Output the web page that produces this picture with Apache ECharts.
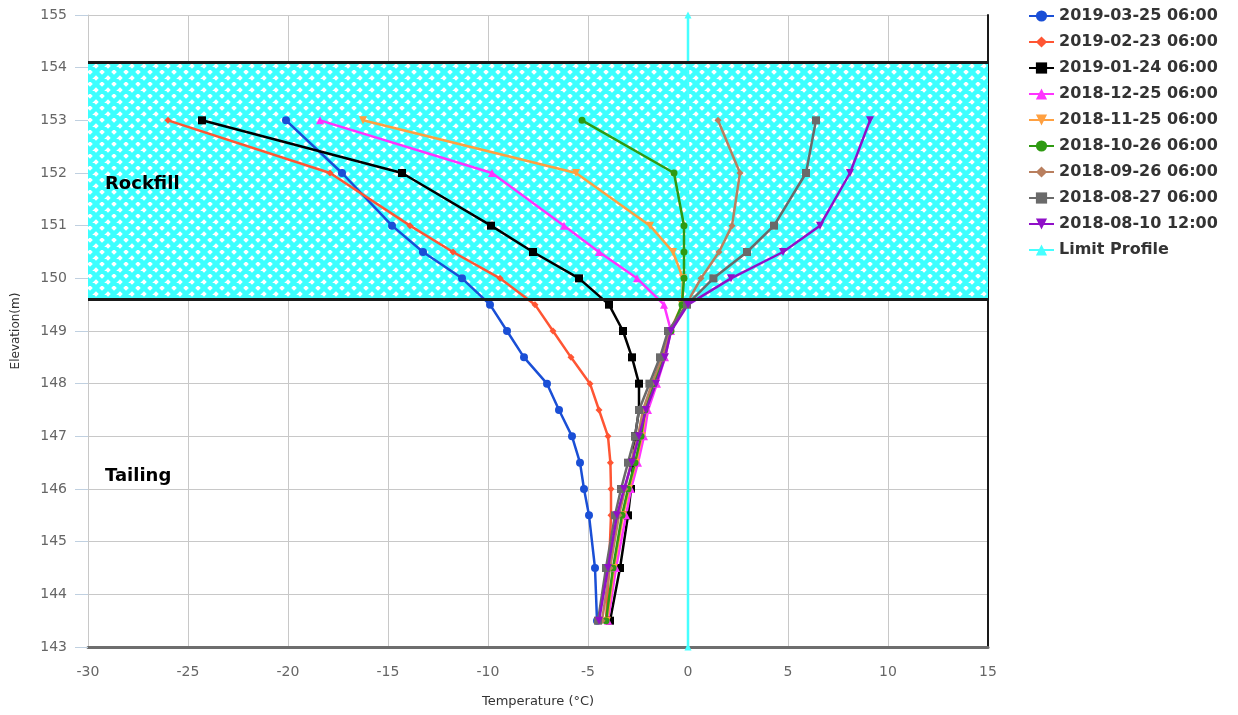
<!DOCTYPE html>
<html>
<head>
<meta charset="utf-8">
<script src="https://cdn.jsdelivr.net/npm/echarts@6/dist/echarts.min.js"></script>
<style>
html,body{margin:0;padding:0;background:#fff;}
#chart{width:1238px;height:715px;}
</style>
</head>
<body>
<div id="chart"></div>
<script>
// ---- data ----
const elevations = [153, 152, 151, 150.5, 150, 149.5, 149, 148.5, 148, 147.5, 147, 146.5, 146, 145.5, 144.5, 143.5];
const seriesNames = ['2019-03-25 06:00','2019-02-23 06:00','2019-01-24 06:00','2018-12-25 06:00','2018-11-25 06:00','2018-10-26 06:00','2018-09-26 06:00','2018-08-27 06:00','2018-08-10 12:00'];
const t20190325 = [-20.1, -17.3, -14.8, -13.25, -11.3, -9.9, -9.05, -8.2, -7.05, -6.45, -5.8, -5.4, -5.2, -4.95, -4.65, -4.55];
const t20190223 = [-26.0, -17.9, -13.9, -11.75, -9.4, -7.65, -6.75, -5.85, -4.9, -4.45, -4.0, -3.88, -3.85, -3.85, -3.95, -4.1];
const t20190124 = [-24.3, -14.3, -9.85, -7.75, -5.45, -3.95, -3.25, -2.8, -2.45, -2.45, -2.65, -2.75, -2.85, -3.0, -3.4, -3.9];
const t20181225 = [-18.4, -9.8, -6.2, -4.45, -2.55, -1.2, -0.85, -1.15, -1.55, -2.0, -2.2, -2.5, -2.85, -3.1, -3.6, -4.0];
const t20181125 = [-16.25, -5.6, -1.9, -0.75, -0.25, -0.3, -0.9, -1.2, -1.65, -2.1, -2.3, -2.6, -2.95, -3.25, -3.7, -4.05];
const t20181026 = [-5.3, -0.7, -0.2, -0.2, -0.2, -0.3, -0.85, -1.25, -1.7, -2.15, -2.35, -2.65, -3.0, -3.3, -3.75, -4.1];
const t20180926 = [1.5, 2.6, 2.2, 1.55, 0.65, -0.1, -0.9, -1.3, -1.8, -2.25, -2.5, -2.85, -3.15, -3.45, -3.9, -4.3];
const t20180827 = [6.4, 5.9, 4.3, 2.95, 1.27, -0.05, -1.0, -1.4, -1.93, -2.45, -2.65, -3.0, -3.35, -3.65, -4.1, -4.5];
const t20180810 = [9.1, 8.1, 6.6, 4.75, 2.15, 0.0, -0.85, -1.15, -1.6, -2.1, -2.45, -2.8, -3.2, -3.55, -4.0, -4.45];
const limitName = 'Limit Profile';
const limitX = [0, 0];
const limitY = [143, 155];
const rockfillTop = 154.1;
const rockfillBottom = 149.6;
const xMin = -30, xMax = 15, xStep = 5;
const yMin = 143, yMax = 155, yStep = 1;

// ---- styles ----
const colors = ['#1a4fd6','#ff5533','#000000','#ff33ff','#ffa040','#2f9a12','#b97f5e','#6a6a6a','#9010c8'];
const symbols = ['circle','diamond','rect','triangle','path://M0,0 L10,0 L5,9 Z','circle','diamond','rect','path://M0,0 L10,0 L5,9 Z'];
const symbolSizes = [8, 7, 8, 8, 8, 7, 7, 8, 8];
const tempSets = [t20190325, t20190223, t20190124, t20181225, t20181125, t20181026, t20180926, t20180827, t20180810];

function hatch() {
  const P = 12;
  const c = document.createElement('canvas');
  c.width = P; c.height = P;
  const g = c.getContext('2d');
  g.fillStyle = '#ffffff';
  g.fillRect(0, 0, P, P);
  g.strokeStyle = '#3dffff';
  g.lineWidth = 4.5;
  g.beginPath();
  for (let k = -1; k <= 1; k++) {
    g.moveTo(k * P, 0); g.lineTo(k * P + P, P);
    g.moveTo(k * P + P, 0); g.lineTo(k * P, P);
  }
  g.stroke();
  return c;
}

const chart = echarts.init(document.getElementById('chart'), null, {renderer: 'canvas'});

const series = [];
series.push({
  name: 'zone', type: 'line', data: [], z: -1, silent: true,
  markArea: {
    silent: true,
    itemStyle: {color: {image: hatch(), repeat: 'repeat'}},
    data: [[{xAxis: xMin, yAxis: rockfillBottom}, {xAxis: xMax, yAxis: rockfillTop}]]
  }
});
series.push({
  name: 'zoneEdge', type: 'line', data: [], z: 1, silent: true,
  markLine: {
    silent: true, symbol: ['none','none'], label: {show: false},
    lineStyle: {color: '#1a1a1a', width: 3, type: 'solid'},
    data: [{yAxis: rockfillTop}, {yAxis: rockfillBottom}]
  }
});
tempSets.forEach((arr, i) => {
  series.push({
    name: seriesNames[i], type: 'line',
    data: arr.map((t, j) => [t, elevations[j]]),
    color: colors[i],
    symbol: symbols[i], symbolSize: symbolSizes[i], showSymbol: true,
    lineStyle: {width: 2.5},
    itemStyle: {color: colors[i]},
    emphasis: {disabled: true},
    animation: false
  });
});
series.push({
  name: limitName, type: 'line',
  data: limitX.map((x, j) => [x, limitY[j]]),
  color: '#46ffff',
  symbol: 'triangle', symbolSize: 7,
  lineStyle: {width: 2.5, color: '#46ffff'},
  itemStyle: {color: '#46ffff'},
  animation: false
});

chart.setOption({
  animation: false,
  backgroundColor: '#ffffff',
  grid: {left: 88, right: 250, top: 15, bottom: 68, containLabel: false, outerBoundsMode: 'none'},
  legend: {
    data: seriesNames.concat([limitName]),
    orient: 'vertical', left: 1023, top: 3,
    itemWidth: 25, itemHeight: 14, itemGap: 10,
    textStyle: {fontFamily: 'DejaVu Sans', fontWeight: 'bold', fontSize: 16, color: '#333'},
    selectedMode: false
  },
  xAxis: {
    type: 'value', min: xMin, max: xMax, interval: xStep,
    name: 'Temperature (°C)', nameLocation: 'middle', nameGap: 48,
    nameTextStyle: {fontFamily: 'DejaVu Sans', fontSize: 13, color: '#333'},
    axisLine: {show: true, onZero: false, lineStyle: {color: '#6e6e6e', width: 3}},
    axisTick: {show: false},
    axisLabel: {margin: 18, fontFamily: 'DejaVu Sans', fontSize: 14, color: '#666'},
    splitLine: {show: true, lineStyle: {color: '#c8c8c8', width: 1}}
  },
  yAxis: [{
    type: 'value', min: yMin, max: yMax, interval: yStep,
    name: 'Elevation(m)', nameLocation: 'middle', nameGap: 66, nameRotate: 90,
    nameTextStyle: {fontFamily: 'DejaVu Sans', fontSize: 12, color: '#333'},
    axisLine: {show: true, onZero: false, lineStyle: {color: '#c8c8c8', width: 1}},
    axisTick: {show: true, length: 13, lineStyle: {color: '#c0d0e0'}},
    axisLabel: {margin: 21, fontFamily: 'DejaVu Sans', fontSize: 14, color: '#666'},
    splitLine: {show: true, lineStyle: {color: '#c8c8c8', width: 1}}
  }, {
    type: 'value', min: yMin, max: yMax, interval: yStep, position: 'right',
    axisLine: {show: true, onZero: false, lineStyle: {color: '#1a1a1a', width: 2}},
    axisTick: {show: false}, axisLabel: {show: false}, splitLine: {show: false}
  }],
  graphic: [
    {type: 'text', z: 100, left: 105, top: 175, style: {text: 'Rockfill', fontFamily: 'DejaVu Sans', fontWeight: 'bold', fontSize: 18, fill: '#000'}},
    {type: 'text', z: 100, left: 105, top: 467, style: {text: 'Tailing', fontFamily: 'DejaVu Sans', fontWeight: 'bold', fontSize: 18, fill: '#000'}}
  ],
  series: series
});
</script>
</body>
</html>
